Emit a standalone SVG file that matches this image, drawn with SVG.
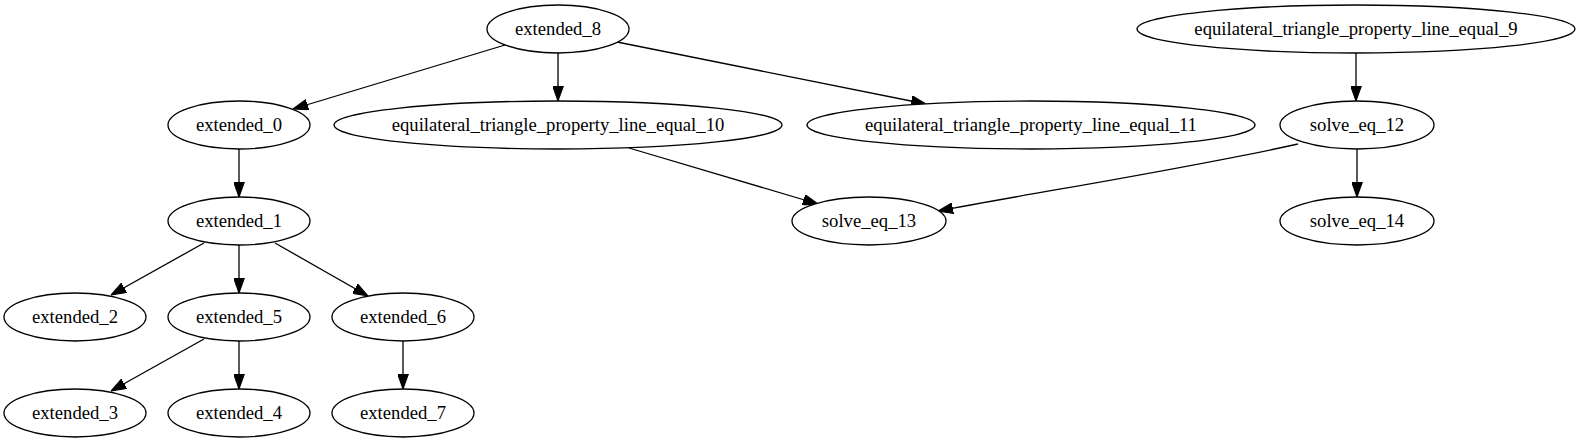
<svg xmlns="http://www.w3.org/2000/svg" width="1581" height="443" viewBox="0 0 1581 443">
<style>
.node ellipse{fill:#fff;stroke:#000;stroke-width:1.3}
.edge{fill:none;stroke:#000;stroke-width:1.3}
</style>
<defs>
<marker id="arr" markerUnits="userSpaceOnUse" markerWidth="15" markerHeight="11" viewBox="0 0 14 10" refX="14" refY="5" orient="auto">
<path d="M0,0 L14,5 L0,10 z" fill="#000" stroke="#000" stroke-width="1"/>
</marker>
</defs>
<rect width="1581" height="443" fill="#fff"/>
<g id="connectors">
<path class="edge" marker-end="url(#arr)" d="M505,45 L293,109"/>
<path class="edge" marker-end="url(#arr)" d="M558,53 L558,101"/>
<path class="edge" marker-end="url(#arr)" d="M617,42 L926,104"/>
<path class="edge" marker-end="url(#arr)" d="M1356,53 L1356,101"/>
<path class="edge" marker-end="url(#arr)" d="M239,149 L239,197"/>
<path class="edge" marker-end="url(#arr)" d="M629,148 L818,204"/>
<path class="edge" marker-end="url(#arr)" d="M1298,144 C1190,168 1050,190 938,211"/>
<path class="edge" marker-end="url(#arr)" d="M1357,149 L1357,197"/>
<path class="edge" marker-end="url(#arr)" d="M204,243 L111,295"/>
<path class="edge" marker-end="url(#arr)" d="M239,245 L239,293"/>
<path class="edge" marker-end="url(#arr)" d="M275,243 L368,296"/>
<path class="edge" marker-end="url(#arr)" d="M204,339 L111,391"/>
<path class="edge" marker-end="url(#arr)" d="M239,341 L239,389"/>
<path class="edge" marker-end="url(#arr)" d="M403,341 L403,389"/>
</g>
<g id="extended_8" class="node"><ellipse cx="558" cy="29" rx="71" ry="24"/><text x="558" y="35" font-family="Liberation Serif" font-size="18.67" text-anchor="middle">extended_8</text></g>
<g id="equilateral_triangle_property_line_equal_9" class="node"><ellipse cx="1356" cy="29" rx="219" ry="24"/><text x="1356" y="35" font-family="Liberation Serif" font-size="18.67" text-anchor="middle">equilateral_triangle_property_line_equal_9</text></g>
<g id="extended_0" class="node"><ellipse cx="239" cy="125" rx="71" ry="24"/><text x="239" y="131" font-family="Liberation Serif" font-size="18.67" text-anchor="middle">extended_0</text></g>
<g id="equilateral_triangle_property_line_equal_10" class="node"><ellipse cx="558" cy="125" rx="224" ry="24"/><text x="558" y="131" font-family="Liberation Serif" font-size="18.67" text-anchor="middle">equilateral_triangle_property_line_equal_10</text></g>
<g id="equilateral_triangle_property_line_equal_11" class="node"><ellipse cx="1031" cy="125" rx="224" ry="24"/><text x="1031" y="131" font-family="Liberation Serif" font-size="18.67" text-anchor="middle">equilateral_triangle_property_line_equal_11</text></g>
<g id="solve_eq_12" class="node"><ellipse cx="1357" cy="125" rx="77" ry="24"/><text x="1357" y="131" font-family="Liberation Serif" font-size="18.67" text-anchor="middle">solve_eq_12</text></g>
<g id="extended_1" class="node"><ellipse cx="239" cy="221" rx="71" ry="24"/><text x="239" y="227" font-family="Liberation Serif" font-size="18.67" text-anchor="middle">extended_1</text></g>
<g id="solve_eq_13" class="node"><ellipse cx="869" cy="221" rx="77" ry="24"/><text x="869" y="227" font-family="Liberation Serif" font-size="18.67" text-anchor="middle">solve_eq_13</text></g>
<g id="solve_eq_14" class="node"><ellipse cx="1357" cy="221" rx="77" ry="24"/><text x="1357" y="227" font-family="Liberation Serif" font-size="18.67" text-anchor="middle">solve_eq_14</text></g>
<g id="extended_2" class="node"><ellipse cx="75" cy="317" rx="71" ry="24"/><text x="75" y="323" font-family="Liberation Serif" font-size="18.67" text-anchor="middle">extended_2</text></g>
<g id="extended_5" class="node"><ellipse cx="239" cy="317" rx="71" ry="24"/><text x="239" y="323" font-family="Liberation Serif" font-size="18.67" text-anchor="middle">extended_5</text></g>
<g id="extended_6" class="node"><ellipse cx="403" cy="317" rx="71" ry="24"/><text x="403" y="323" font-family="Liberation Serif" font-size="18.67" text-anchor="middle">extended_6</text></g>
<g id="extended_3" class="node"><ellipse cx="75" cy="413" rx="71" ry="24"/><text x="75" y="419" font-family="Liberation Serif" font-size="18.67" text-anchor="middle">extended_3</text></g>
<g id="extended_4" class="node"><ellipse cx="239" cy="413" rx="71" ry="24"/><text x="239" y="419" font-family="Liberation Serif" font-size="18.67" text-anchor="middle">extended_4</text></g>
<g id="extended_7" class="node"><ellipse cx="403" cy="413" rx="71" ry="24"/><text x="403" y="419" font-family="Liberation Serif" font-size="18.67" text-anchor="middle">extended_7</text></g>
</svg>
